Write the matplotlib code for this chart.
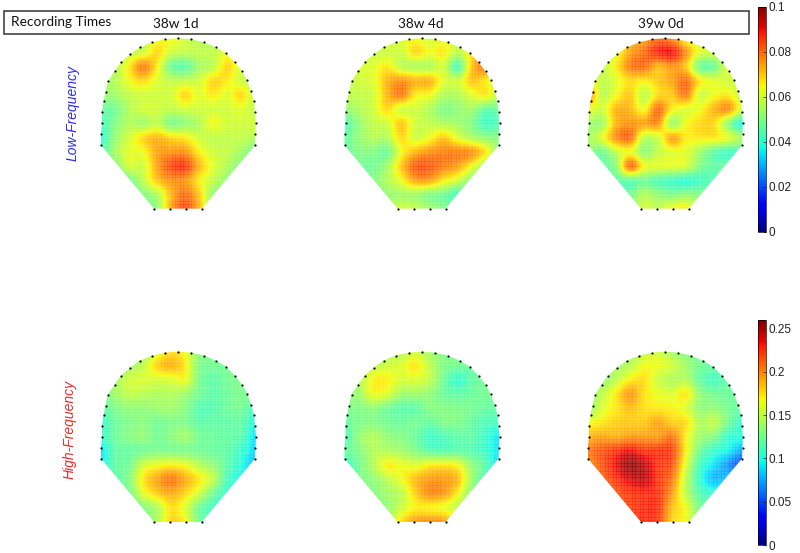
import numpy as np
import matplotlib
matplotlib.use("Agg")
import matplotlib.pyplot as plt
from matplotlib.patches import Polygon, Rectangle

plt.rcParams["font.family"] = ["Liberation Sans", "DejaVu Sans"]

recording_times = ["38w 1d", "38w 4d", "39w 0d"]
tick_low = [0, 0.02, 0.04, 0.06, 0.08, 0.1]
tick_low_labels = ["0", "0.02", "0.04", "0.06", "0.08", "0.1"]
tick_high = [0, 0.05, 0.1, 0.15, 0.2, 0.25]
tick_high_labels = ["0", "0.05", "0.1", "0.15", "0.2", "0.25"]

# electrode layout, pixels from the left/top of the head
sensor_x = [0, 0, 1, 1, 2.5, 4.5, 7, 13.5, 20, 29, 39, 51, 64, 77, 90, 103, 115, 125, 134,
            141, 146, 150, 153, 154, 155, 154.5, 154, 101, 85, 69, 53]
sensor_y = [107, 96, 85, 74, 63, 54, 43, 33, 24, 16, 9, 4, 1, 0, 1, 4, 9, 15, 24,
            33, 42, 53, 63, 74, 85, 96, 107, 170.3, 170.3, 170.3, 170.3]

# power maps, in thousandths, 13 rows by 12 columns
low_1 = [
    [50, 52, 54, 58, 64, 64, 60, 56, 54, 54, 54, 54],
    [52, 54, 58, 60, 68, 60, 58, 58, 58, 62, 58, 54],
    [52, 56, 66, 78, 66, 48, 46, 54, 58, 68, 60, 54],
    [54, 56, 64, 68, 62, 58, 58, 60, 68, 66, 60, 56],
    [52, 54, 58, 60, 60, 60, 68, 62, 66, 62, 68, 58],
    [46, 48, 56, 60, 60, 58, 60, 60, 60, 60, 62, 58],
    [42, 50, 56, 54, 58, 50, 52, 56, 64, 60, 60, 60],
    [40, 52, 60, 68, 72, 68, 66, 60, 58, 58, 58, 56],
    [44, 54, 62, 64, 74, 76, 76, 66, 60, 58, 54, 48],
    [50, 50, 60, 60, 74, 84, 86, 72, 62, 56, 50, 48],
    [50, 50, 48, 58, 70, 76, 76, 66, 58, 52, 50, 50],
    [50, 50, 48, 50, 56, 72, 80, 70, 52, 50, 50, 50],
    [50, 50, 50, 50, 52, 74, 84, 72, 52, 50, 50, 50],
]
low_2 = [
    [56, 56, 56, 60, 62, 64, 60, 62, 58, 56, 56, 56],
    [56, 58, 58, 60, 60, 68, 64, 66, 58, 66, 70, 56],
    [56, 60, 62, 66, 58, 56, 56, 60, 44, 70, 78, 62],
    [56, 60, 62, 72, 76, 72, 72, 62, 60, 70, 66, 58],
    [58, 58, 60, 72, 78, 66, 64, 56, 56, 62, 66, 56],
    [52, 56, 60, 68, 60, 60, 56, 50, 52, 54, 46, 48],
    [44, 52, 58, 60, 70, 60, 58, 56, 54, 50, 42, 44],
    [46, 52, 56, 56, 68, 60, 64, 70, 62, 56, 52, 50],
    [46, 50, 50, 48, 64, 72, 76, 78, 78, 76, 66, 50],
    [48, 48, 48, 54, 70, 82, 82, 78, 74, 64, 52, 46],
    [50, 48, 50, 56, 64, 74, 74, 66, 60, 50, 42, 44],
    [50, 48, 50, 52, 54, 54, 50, 48, 42, 44, 48, 48],
    [50, 50, 50, 56, 60, 58, 54, 50, 46, 48, 50, 50],
]
low_3 = [
    [58, 58, 60, 70, 74, 80, 76, 64, 58, 56, 56, 56],
    [58, 58, 62, 74, 80, 88, 90, 76, 62, 60, 58, 56],
    [60, 58, 66, 78, 80, 72, 76, 70, 48, 48, 62, 56],
    [66, 58, 62, 68, 66, 70, 74, 80, 66, 62, 60, 58],
    [78, 58, 64, 70, 58, 68, 70, 78, 60, 64, 66, 58],
    [64, 60, 72, 72, 64, 80, 66, 62, 64, 72, 76, 60],
    [54, 54, 72, 76, 74, 76, 54, 64, 68, 68, 52, 38],
    [54, 62, 76, 80, 58, 60, 74, 66, 66, 66, 62, 54],
    [52, 48, 58, 64, 52, 58, 62, 62, 54, 46, 42, 44],
    [48, 46, 52, 80, 64, 62, 62, 60, 50, 46, 46, 46],
    [46, 46, 46, 46, 48, 44, 42, 40, 42, 44, 46, 46],
    [46, 46, 46, 48, 56, 52, 50, 52, 50, 48, 48, 48],
    [50, 50, 50, 52, 60, 58, 64, 66, 56, 50, 50, 50],
]
high_1 = [
    [130, 130, 130, 135, 160, 175, 165, 135, 125, 125, 125, 125],
    [130, 132, 140, 150, 178, 188, 172, 130, 125, 125, 125, 125],
    [130, 140, 155, 158, 158, 160, 165, 128, 118, 125, 125, 125],
    [125, 140, 150, 148, 145, 145, 140, 125, 118, 122, 128, 120],
    [115, 128, 135, 135, 138, 140, 132, 115, 115, 122, 125, 108],
    [105, 122, 128, 132, 125, 128, 128, 118, 118, 118, 118, 100],
    [105, 122, 130, 135, 125, 132, 140, 125, 122, 120, 115, 90],
    [90, 118, 120, 125, 128, 128, 128, 125, 122, 118, 105, 88],
    [95, 118, 125, 155, 165, 170, 165, 148, 135, 118, 100, 80],
    [110, 118, 130, 172, 192, 205, 190, 172, 150, 112, 95, 85],
    [110, 118, 125, 160, 180, 190, 178, 155, 125, 105, 100, 100],
    [115, 115, 118, 130, 145, 175, 160, 125, 110, 105, 105, 105],
    [115, 115, 118, 130, 145, 178, 168, 125, 115, 115, 115, 115],
]
high_2 = [
    [130, 130, 130, 140, 145, 155, 140, 130, 125, 125, 125, 125],
    [132, 140, 150, 155, 160, 172, 150, 130, 125, 122, 125, 125],
    [132, 145, 168, 170, 158, 160, 150, 125, 105, 118, 125, 125],
    [135, 140, 165, 160, 140, 140, 135, 122, 118, 122, 125, 125],
    [128, 130, 135, 125, 118, 118, 130, 130, 128, 125, 120, 118],
    [120, 128, 130, 125, 122, 125, 120, 128, 128, 120, 112, 110],
    [112, 135, 145, 135, 130, 122, 108, 112, 118, 118, 105, 90],
    [120, 130, 145, 145, 140, 130, 118, 115, 118, 115, 105, 90],
    [105, 125, 145, 170, 165, 160, 170, 172, 165, 135, 115, 85],
    [115, 125, 135, 150, 165, 185, 195, 195, 185, 140, 110, 105],
    [120, 125, 130, 140, 150, 180, 200, 195, 170, 130, 115, 115],
    [125, 125, 130, 135, 155, 170, 170, 165, 150, 130, 125, 125],
    [125, 125, 130, 135, 175, 195, 200, 195, 175, 130, 125, 125],
]
high_3 = [
    [130, 130, 135, 140, 150, 155, 140, 130, 125, 125, 125, 125],
    [130, 135, 140, 148, 165, 165, 155, 140, 125, 122, 122, 122],
    [130, 135, 150, 170, 175, 155, 145, 145, 120, 110, 120, 120],
    [132, 150, 172, 195, 175, 165, 160, 172, 135, 125, 122, 120],
    [135, 160, 172, 185, 175, 172, 170, 160, 135, 135, 125, 120],
    [165, 172, 180, 182, 182, 192, 180, 175, 145, 150, 125, 105],
    [188, 192, 190, 195, 195, 195, 205, 170, 140, 130, 105, 100],
    [205, 215, 225, 235, 225, 225, 220, 170, 125, 105, 95, 75],
    [200, 215, 235, 255, 245, 225, 215, 160, 110, 90, 70, 50],
    [200, 210, 225, 240, 245, 225, 205, 150, 105, 80, 85, 100],
    [200, 205, 215, 225, 228, 225, 195, 150, 115, 105, 110, 115],
    [205, 210, 215, 222, 228, 225, 185, 165, 125, 125, 125, 125],
    [210, 215, 220, 225, 228, 222, 180, 165, 130, 125, 125, 125],
]

W, H = 800, 553


def px_axes(fig, left, top, width, height):
    return fig.add_axes([left / W, 1 - (top + height) / H, width / W, height / H])


def draw_head(fig, left, top, values, vmax):
    pad = 3
    ax = px_axes(fig, left - pad, top - pad, 155 + 2 * pad, 170.3 + 2 * pad)
    ax.patch.set_alpha(0)
    data = np.array(values) / 1000
    im = ax.imshow(data, cmap="jet", vmin=0, vmax=vmax, interpolation="catrom",
                   interpolation_stage="data",
                   extent=(-7, 161, 177.5, -7), aspect="auto")
    outline = Polygon(np.column_stack([sensor_x, sensor_y]), closed=True,
                      transform=ax.transData, fc="none", ec="none")
    ax.add_patch(outline)
    im.set_clip_path(outline)
    ax.set_xlim(-pad, 155 + pad)
    ax.set_ylim(170.3 + pad, -pad)
    # fine white mesh of the surface plot
    ax.set_xticks(np.arange(0, 156, 2.7))
    ax.set_yticks(np.arange(0, 171, 2.7))
    ax.tick_params(length=0, labelbottom=False, labelleft=False)
    ax.set_axisbelow(False)
    ax.grid(color="white", lw=0.35, alpha=0.4)
    for gl in ax.get_xgridlines() + ax.get_ygridlines():
        gl.set_clip_path(outline)
    for s in ax.spines.values():
        s.set_visible(False)
    ax.scatter(sensor_x, sensor_y, s=2.5, c="black", lw=0, zorder=5, clip_on=False)
    return im


def draw_colorbar(fig, im, top, ticks, labels):
    cax = px_axes(fig, 757.5, top, 8.5, 225)
    cb = fig.colorbar(im, cax=cax, ticks=ticks)
    cb.ax.set_yticklabels(labels)
    cb.ax.tick_params(direction="in", length=2, width=0.5, labelsize=8.5, pad=1.5,
                      colors="#222222")
    cb.outline.set_linewidth(0.5)


def main() -> None:
    fig = plt.figure(figsize=(W / 100, H / 100), dpi=100)

    bg = fig.add_axes([0, 0, 1, 1])
    bg.set_xlim(0, W)
    bg.set_ylim(H, 0)
    bg.axis("off")
    bg.add_patch(Rectangle((3.5, 11), 745.5, 23, fc="white", ec="#333333", lw=1.1))
    bg.text(11, 22.5, "Recording Times", family="Lato", fontsize=9.8, va="center",
            color="#111111")
    for cx, label in zip([176, 421, 661], recording_times):
        bg.text(cx, 24, label, family="Lato", fontsize=9.8, ha="center", va="center",
                color="#111111")
    bg.text(73, 113, "Low-Frequency", color="#2a2aee", style="italic", fontsize=10,
            rotation=90, ha="center", va="center")
    bg.text(70, 429, "High-Frequency", color="#f02828", style="italic", fontsize=10,
            rotation=90, ha="center", va="center")

    lefts = [101, 344.5, 588]
    im_low = None
    im_high = None
    for left, values in zip(lefts, [low_1, low_2, low_3]):
        im_low = draw_head(fig, left, 38.3, values, 0.1)
    for left, values in zip(lefts, [high_1, high_2, high_3]):
        im_high = draw_head(fig, left, 351.6, values, 0.26)

    draw_colorbar(fig, im_low, 6.7, tick_low, tick_low_labels)
    draw_colorbar(fig, im_high, 320, tick_high, tick_high_labels)

    fig.savefig("out.png", dpi=100)


if __name__ == "__main__":
    main()
